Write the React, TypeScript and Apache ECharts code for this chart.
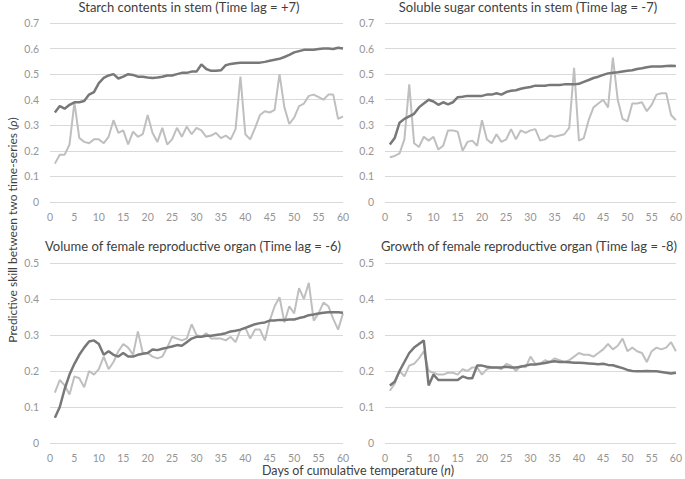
import React, { useEffect, useRef } from "react";
import * as echarts from "echarts";

const days = Array.from({ length: 60 }, (_, i) => i + 1);

const starchDark = [0.35,0.375,0.365,0.38,0.39,0.39,0.395,0.42,0.43,0.465,0.485,0.495,0.5,0.483,0.49,0.5,0.497,0.49,0.49,0.487,0.485,0.487,0.49,0.495,0.495,0.5,0.505,0.505,0.51,0.51,0.538,0.52,0.513,0.513,0.515,0.535,0.54,0.543,0.545,0.545,0.545,0.545,0.545,0.548,0.552,0.556,0.56,0.567,0.575,0.585,0.59,0.595,0.595,0.595,0.598,0.6,0.6,0.598,0.603,0.6];
const starchLight = [0.15,0.185,0.185,0.225,0.39,0.25,0.235,0.23,0.245,0.245,0.23,0.255,0.32,0.27,0.28,0.225,0.275,0.255,0.265,0.34,0.27,0.235,0.29,0.225,0.245,0.29,0.255,0.295,0.265,0.29,0.28,0.255,0.26,0.27,0.25,0.26,0.245,0.285,0.49,0.265,0.245,0.29,0.34,0.355,0.35,0.36,0.5,0.37,0.305,0.33,0.375,0.385,0.415,0.42,0.41,0.4,0.42,0.42,0.325,0.335];

const sugarDark = [0.225,0.25,0.31,0.325,0.335,0.345,0.37,0.385,0.4,0.393,0.38,0.39,0.382,0.39,0.41,0.412,0.415,0.415,0.415,0.415,0.42,0.42,0.425,0.42,0.43,0.435,0.437,0.443,0.447,0.45,0.455,0.455,0.455,0.458,0.458,0.458,0.46,0.46,0.46,0.462,0.47,0.477,0.485,0.49,0.497,0.503,0.505,0.507,0.51,0.513,0.515,0.52,0.523,0.527,0.53,0.53,0.53,0.532,0.533,0.532];
const sugarLight = [0.175,0.18,0.19,0.245,0.46,0.23,0.215,0.255,0.24,0.255,0.205,0.22,0.28,0.28,0.275,0.2,0.235,0.24,0.22,0.32,0.245,0.23,0.265,0.235,0.245,0.285,0.245,0.28,0.27,0.28,0.285,0.24,0.245,0.26,0.255,0.26,0.265,0.29,0.525,0.24,0.25,0.32,0.37,0.385,0.4,0.37,0.565,0.4,0.325,0.315,0.385,0.385,0.39,0.355,0.38,0.42,0.425,0.425,0.34,0.32];

const volumeDark = [0.07,0.1,0.15,0.19,0.22,0.245,0.265,0.282,0.285,0.275,0.245,0.255,0.245,0.24,0.25,0.24,0.24,0.245,0.248,0.25,0.26,0.258,0.262,0.265,0.268,0.272,0.27,0.28,0.29,0.295,0.295,0.298,0.298,0.3,0.302,0.305,0.31,0.312,0.315,0.32,0.325,0.33,0.333,0.335,0.34,0.34,0.342,0.342,0.343,0.343,0.347,0.35,0.355,0.357,0.36,0.362,0.363,0.363,0.363,0.362];
const volumeLight = [0.14,0.175,0.16,0.135,0.185,0.18,0.155,0.2,0.19,0.205,0.24,0.205,0.225,0.255,0.275,0.265,0.245,0.31,0.25,0.25,0.24,0.235,0.24,0.265,0.295,0.29,0.285,0.29,0.33,0.3,0.295,0.305,0.29,0.29,0.29,0.285,0.295,0.28,0.315,0.32,0.29,0.315,0.315,0.285,0.34,0.38,0.405,0.335,0.38,0.36,0.43,0.4,0.445,0.34,0.36,0.39,0.38,0.345,0.315,0.36];

const growthDark = [0.16,0.17,0.2,0.225,0.25,0.265,0.275,0.285,0.16,0.19,0.175,0.175,0.175,0.175,0.175,0.185,0.18,0.18,0.215,0.215,0.212,0.21,0.21,0.21,0.212,0.21,0.21,0.212,0.215,0.218,0.218,0.22,0.222,0.225,0.227,0.225,0.225,0.224,0.223,0.223,0.222,0.221,0.22,0.219,0.22,0.217,0.216,0.212,0.208,0.203,0.2,0.199,0.199,0.2,0.199,0.199,0.197,0.195,0.193,0.195];
const growthLight = [0.145,0.165,0.2,0.185,0.215,0.22,0.235,0.255,0.2,0.195,0.19,0.19,0.195,0.195,0.19,0.205,0.2,0.21,0.21,0.19,0.205,0.21,0.21,0.205,0.22,0.215,0.2,0.215,0.21,0.24,0.22,0.22,0.23,0.225,0.235,0.23,0.225,0.23,0.24,0.25,0.245,0.245,0.24,0.25,0.26,0.275,0.26,0.27,0.29,0.255,0.265,0.255,0.25,0.225,0.255,0.265,0.26,0.265,0.28,0.255];

const panelTitles = [
  "Starch contents in stem (Time lag = +7)",
  "Soluble sugar contents in stem (Time lag = -7)",
  "Volume of female reproductive organ (Time lag = -6)",
  "Growth of female reproductive organ (Time lag = -8)",
];
const yMaxes = [0.7, 0.7, 0.5, 0.5];
const xTicks = { min: 0, max: 60, interval: 5 };

const FONT = "Lato";
const DARK = "#787878";
const LIGHT = "#bfbfbf";

export default function App() {
  const ref = useRef<HTMLDivElement>(null);
  useEffect(() => {
    if (!ref.current) return;
    const chart = echarts.init(ref.current, null, { renderer: "svg" });
    const grids = [
      { left: 50, top: 23, width: 293, height: 179 },
      { left: 385, top: 23, width: 293, height: 179 },
      { left: 50, top: 263, width: 293, height: 180 },
      { left: 385, top: 263, width: 293, height: 180 },
    ];
    const titleX = [189, 528, 193, 529];
    const titleY = [7, 7, 246, 246];
    const pairs = [
      [starchDark, starchLight],
      [sugarDark, sugarLight],
      [volumeDark, volumeLight],
      [growthDark, growthLight],
    ];
    const toPts = (arr: number[]) => arr.map((v, i) => [days[i], v]);
    const series: any[] = [];
    pairs.forEach(([d, l], i) => {
      series.push({
        type: "line", xAxisIndex: i, yAxisIndex: i, data: toPts(d), symbol: "none",
        lineStyle: { color: DARK, width: 2.5 }, z: 3,
      });
      series.push({
        type: "line", xAxisIndex: i, yAxisIndex: i, data: toPts(l), symbol: "none",
        lineStyle: { color: LIGHT, width: 2 }, z: 2,
      });
    });
    const graphic: any[] = panelTitles.map((t, i) => ({
      type: "text",
      x: titleX[i],
      y: titleY[i],
      style: {
        text: t, font: `13px ${FONT}`, fill: "#404040",
        align: "center", verticalAlign: "middle",
      },
    }));
    graphic.push({
      type: "text",
      x: 12, y: 230, rotation: Math.PI / 2,
      style: {
        text: "{a|Predictive skill between two time-series (}{i|ρ}{a|)}",
        align: "center", verticalAlign: "middle",
        rich: {
          a: { font: `12px ${FONT}`, fill: "#404040" },
          i: { font: `italic 12px ${FONT}`, fill: "#404040" },
        },
      },
    });
    graphic.push({
      type: "text",
      x: 358, y: 470,
      style: {
        text: "{a|Days of cumulative temperature (}{i|n}{a|)}",
        align: "center", verticalAlign: "middle",
        rich: {
          a: { font: `12.5px ${FONT}`, fill: "#404040" },
          i: { font: `italic 12.5px ${FONT}`, fill: "#404040" },
        },
      },
    });
    chart.setOption({
      animation: false,
      grid: grids,
      xAxis: grids.map((_, i) => ({
        type: "value", gridIndex: i, min: xTicks.min, max: xTicks.max, interval: xTicks.interval,
        axisLine: { show: false }, axisTick: { show: false }, splitLine: { show: false },
        axisLabel: { color: "#959595", fontSize: 10.5, fontFamily: FONT, margin: 9 },
      })),
      yAxis: grids.map((_, i) => ({
        type: "value", gridIndex: i, min: 0, max: yMaxes[i], interval: 0.1,
        axisLine: { show: false }, axisTick: { show: false },
        splitLine: { lineStyle: { color: "#d9d9d9", width: 1 } },
        axisLabel: { color: "#959595", fontSize: 10.5, fontFamily: FONT, margin: 11 },
      })),
      series,
      graphic,
    });
    return () => chart.dispose();
  }, []);
  return (
    <div
      ref={ref}
      style={{ position: "absolute", left: 0, top: 0, width: 685, height: 479, background: "#fff" }}
    />
  );
}
